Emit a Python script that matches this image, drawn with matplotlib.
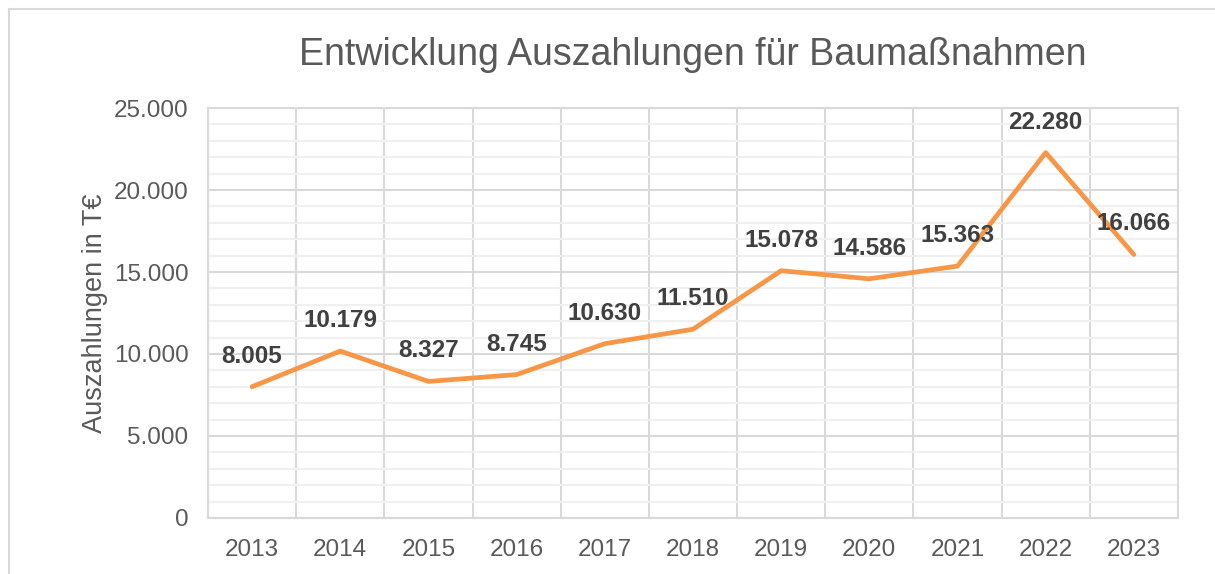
import matplotlib.pyplot as plt
from matplotlib.ticker import MultipleLocator, FuncFormatter
from matplotlib.lines import Line2D

# DATA
years = ['2013', '2014', '2015', '2016', '2017', '2018', '2019', '2020', '2021', '2022', '2023']
werte = [8005, 10179, 8327, 8745, 10630, 11510, 15078, 14586, 15363, 22280, 16066]

plt.rcParams['font.family'] = ['Liberation Sans', 'DejaVu Sans']

def de_format(v, pos=None):
    return f"{int(v):,}".replace(',', '.')

fig = plt.figure(figsize=(12.15, 5.74), dpi=100)
ax = fig.add_axes([0.1712, 0.0976, 0.7983, 0.7142])

x = list(range(len(years)))
ax.plot(x, werte, color='#F79646', lw=3.4, solid_capstyle='round', solid_joinstyle='round', zorder=3)

for xi, v in zip(x, werte):
    ax.annotate(de_format(v), (xi, v), xytext=(0, 22), textcoords='offset points',
                ha='center', va='center', fontsize=17.5, fontweight='bold', color='#404040', zorder=4)

ax.set_xlim(-0.5, len(years) - 0.5)
ax.set_ylim(0, 25000)
ax.set_xticks(x)
ax.set_xticklabels(years)
ax.set_xticks([i - 0.5 for i in range(len(years) + 1)], minor=True)
ax.yaxis.set_major_locator(MultipleLocator(5000))
ax.yaxis.set_minor_locator(MultipleLocator(1000))
ax.yaxis.set_major_formatter(FuncFormatter(de_format))

ax.grid(which='major', axis='y', color='#d9d9d9', lw=1.5)
ax.grid(which='minor', axis='y', color='#f0f0f0', lw=1.5)
ax.grid(which='minor', axis='x', color='#d9d9d9', lw=1.5)
ax.set_axisbelow(True)
for s in ax.spines.values():
    s.set_color('#d9d9d9')
    s.set_linewidth(1.5)

ax.tick_params(which='both', length=0)
ax.tick_params(axis='y', pad=14, labelsize=17.5, labelcolor='#595959')
ax.tick_params(axis='x', pad=15, labelsize=17.5, labelcolor='#595959')

ax.set_ylabel('Auszahlungen in T€', fontsize=19.5, color='#595959', labelpad=4)
fig.text(0.570, 0.905, 'Entwicklung Auszahlungen für Baumaßnahmen', ha='center', va='center',
         fontsize=27, color='#595959')

# chart frame (cut at right and bottom)
fig.add_artist(Line2D([9 / 1215, 1], [1 - 9 / 574, 1 - 9 / 574], color='#d9d9d9', lw=1.5))
fig.add_artist(Line2D([9 / 1215, 9 / 1215], [0, 1 - 9 / 574], color='#d9d9d9', lw=1.5))

fig.savefig('out.png', dpi=100)
